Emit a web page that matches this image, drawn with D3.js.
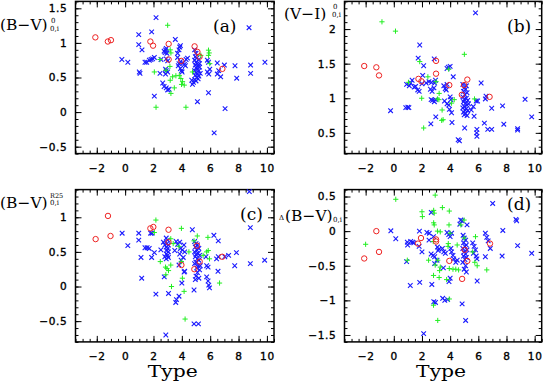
<!DOCTYPE html>
<html>
<head>
<meta charset="utf-8">
<script src="https://cdnjs.cloudflare.com/ajax/libs/d3/7.8.5/d3.min.js"></script>
<style>
body { margin: 0; background: #fff; }
svg { display: block; }
</style>
</head>
<body>
<svg id="chart" width="545" height="382"></svg>
<script>
// tick labels
const typeTicks = [-2, 0, 2, 4, 6, 8, 10];
const yTicksA = [-0.5, 0, 0.5, 1, 1.5];
const yTicksB = [0.5, 1, 1.5, 2];
const yTicksC = [-0.5, 0, 0.5, 1];
const yTicksD = [-1.5, -1, -0.5, 0, 0.5];

// panel (a): (B-V)^0_0,i vs Type
const aRed = [[-2.1,1.08],[-1.22,1.02],[-1.0,1.04],[1.78,1.02],[1.97,0.96],[3.07,0.985],[3.07,0.76],[3.96,0.74],[4.9,0.95],[5.1,0.87],[5.25,0.80],[6.86,0.625]];
const aGreen = [[3.0,1.255],[3.18,0.9],[3.23,0.855],[2.46,0.76],[2.06,0.58],[2.88,0.605],[3.16,0.66],[3.35,0.51],[3.58,0.525],[3.93,0.485],[3.98,0.4],[4.05,0.44],[3.18,0.46],[3.23,0.27],[3.47,0.35],[2.18,0.07],[4.29,0.07],[4.75,0.58],[5.34,0.82],[5.88,0.895],[5.93,0.855],[5.88,0.82],[5.97,0.7],[3.82,0.53],[4.17,0.39]];
const aBlue = [[-0.23,0.76],[0.19,0.72],[0.96,1.12],[0.96,0.975],[1.19,0.9],[1.0,0.58],[1.05,0.56],[1.4,0.72],[1.52,0.72],[1.71,0.75],[1.83,0.76],[1.94,0.77],[1.87,1.16],[2.06,0.79],[2.18,1.365],[2.06,0.23],[2.46,0.56],[2.53,0.76],[2.65,0.42],[2.75,0.88],[2.85,0.9],[2.9,0.92],[2.82,0.86],[2.95,0.85],[2.9,0.77],[3.0,0.74],[2.85,0.62],[2.9,0.6],[3.0,0.58],[2.85,0.55],[2.9,0.35],[3.0,0.32],[3.1,0.33],[2.75,0.37],[3.54,1.05],[3.7,0.85],[3.8,0.9],[3.85,0.94],[3.9,0.96],[3.7,0.79],[3.9,0.73],[3.8,0.7],[3.9,0.63],[3.98,0.6],[4.02,0.58],[4.1,0.71],[4.18,0.69],[4.25,0.67],[3.75,0.67],[4.3,0.76],[4.4,0.78],[4.7,0.46],[4.75,0.4],[4.82,0.43],[4.9,0.9],[5.0,0.85],[4.95,0.8],[5.05,0.78],[5.2,0.76],[4.9,0.75],[5.0,0.72],[5.1,0.7],[5.25,0.7],[4.95,0.68],[5.15,0.66],[5.0,0.64],[5.1,0.62],[4.9,0.6],[5.2,0.6],[5.0,0.57],[5.1,0.55],[4.95,0.53],[5.2,0.52],[5.05,0.5],[5.15,0.48],[4.9,0.47],[5.25,0.65],[5.3,0.56],[5.0,0.45],[5.1,0.15],[5.8,0.75],[5.88,0.72],[5.97,0.62],[5.8,0.58],[5.9,0.55],[5.88,0.28],[6.28,-0.3],[6.5,0.71],[6.6,0.6],[6.5,0.55],[6.74,0.51],[7.0,0.68],[7.05,0.05],[7.75,0.67],[7.87,0.49],[8.74,1.22],[8.85,0.68],[8.85,0.56],[9.86,0.72]];

// panel (b): (V-I)^0_0,i vs Type
const bRed = [[-2.1,1.466],[-1.24,1.447],[-1.05,1.33],[1.75,1.28],[1.96,1.245],[3.0,1.54],[3.0,1.355],[3.94,1.19],[4.83,1.05],[4.99,1.19],[5.22,1.27],[6.8,1.02]];
const bGreen = [[-0.84,2.105],[0.12,1.97],[1.04,1.23],[1.84,1.53],[1.98,1.0],[2.12,0.57],[2.42,1.31],[3.22,1.07],[3.1,0.99],[3.2,0.98],[3.43,0.83],[3.4,0.68],[3.5,0.69],[3.9,1.42],[4.1,0.93],[4.29,0.98],[5.01,1.635],[5.73,0.99],[3.0,1.24]];
const bBlue = [[-0.23,0.82],[0.85,0.865],[1.0,0.87],[1.07,0.865],[0.91,1.2],[1.1,1.18],[1.2,1.22],[1.3,1.26],[1.45,1.16],[1.55,1.17],[1.73,1.58],[1.84,1.77],[1.7,1.12],[1.8,1.1],[2.0,1.21],[2.05,1.33],[2.12,1.47],[2.3,1.22],[2.5,1.24],[2.68,1.23],[2.6,1.13],[2.72,1.1],[2.85,1.15],[2.65,0.98],[2.75,0.97],[2.88,0.95],[2.95,0.98],[2.87,1.57],[2.98,0.73],[2.9,1.22],[2.96,1.26],[2.63,0.63],[3.55,1.18],[3.65,1.14],[3.72,1.12],[3.78,1.2],[3.87,1.45],[3.78,1.43],[4.0,1.46],[3.6,0.96],[3.78,0.92],[3.9,0.9],[4.0,1.02],[4.05,0.98],[4.1,0.79],[4.22,1.31],[3.95,0.84],[4.13,0.65],[4.57,0.4],[4.66,0.385],[4.9,1.2],[5.0,1.15],[5.1,1.13],[4.95,1.1],[5.2,1.08],[5.05,1.05],[4.9,1.02],[5.15,1.0],[5.0,0.98],[5.25,0.97],[4.95,0.95],[5.1,0.93],[5.2,0.9],[5.0,0.88],[4.9,0.86],[5.15,0.85],[5.05,0.83],[5.25,0.82],[4.95,0.8],[5.1,0.78],[5.0,0.76],[5.2,0.75],[5.3,0.92],[5.15,1.18],[5.03,0.57],[5.8,2.235],[5.7,0.74],[5.9,0.55],[5.88,0.5],[5.9,0.45],[5.85,0.96],[5.95,0.96],[5.5,0.83],[5.64,0.88],[6.2,1.22],[6.43,0.64],[6.5,0.99],[6.55,1.03],[6.95,0.855],[6.67,0.55],[6.95,0.55],[7.72,0.89],[7.81,0.625],[8.79,0.56],[8.79,0.54],[9.32,0.985],[9.79,0.73]];

// panel (c): (B-V)^R25_0,i vs Type
const cRed = [[-2.08,0.685],[-1.21,1.02],[-1.03,0.73],[1.78,0.84],[1.99,0.86],[3.06,0.82],[3.06,0.64],[3.97,0.31],[5.07,0.59],[4.88,0.25],[5.26,0.36],[6.85,0.43]];
const cGreen = [[2.17,0.96],[2.06,0.78],[3.97,0.84],[5.09,0.73],[5.84,0.71],[4.86,0.66],[3.22,0.69],[3.39,0.62],[2.48,0.36],[2.85,0.28],[2.95,0.26],[3.22,0.31],[3.06,0.23],[2.87,0.17],[3.27,0.0],[4.04,0.12],[4.16,-0.07],[4.23,-0.47],[5.86,0.52],[5.75,0.5],[6.66,0.05],[3.97,0.36],[3.8,0.58],[4.5,0.5],[5.5,0.45],[5.95,0.4]];
const cBlue = [[-0.21,0.77],[0.19,0.59],[0.96,0.77],[0.96,0.67],[1.12,0.42],[1.17,0.12],[1.4,0.56],[1.55,0.56],[1.7,0.55],[1.8,0.77],[1.9,0.77],[1.87,0.42],[2.06,0.49],[2.17,-0.11],[2.52,0.53],[2.7,0.64],[2.8,0.6],[2.9,0.7],[3.0,0.67],[2.95,0.62],[3.05,0.6],[2.9,0.57],[3.0,0.55],[2.95,0.52],[3.05,0.5],[2.9,0.47],[3.0,0.45],[3.05,0.42],[2.9,0.4],[2.8,0.43],[2.76,0.14],[3.06,-0.1],[2.87,-0.7],[3.57,-0.23],[3.62,-0.19],[3.8,-0.14],[3.6,0.65],[3.7,0.61],[3.85,0.64],[3.9,0.55],[4.04,0.53],[3.85,0.47],[4.1,0.42],[3.95,0.38],[4.15,0.6],[4.2,0.5],[3.5,0.52],[3.8,0.31],[4.0,0.05],[4.16,0.21],[4.2,0.22],[4.74,0.82],[4.86,-0.05],[4.9,0.65],[5.0,0.62],[5.1,0.6],[4.95,0.57],[5.2,0.55],[5.05,0.53],[4.9,0.5],[5.15,0.48],[5.0,0.46],[5.25,0.45],[4.95,0.43],[5.1,0.4],[5.2,0.38],[5.0,0.35],[4.9,0.33],[5.15,0.3],[5.05,0.27],[5.25,0.24],[5.1,0.2],[5.0,0.15],[5.2,0.12],[4.95,0.1],[5.3,0.3],[4.86,-0.54],[5.17,-0.54],[5.7,0.43],[5.75,0.3],[5.85,0.28],[5.75,0.14],[5.85,0.08],[5.9,0.02],[5.95,-0.02],[6.26,0.74],[6.57,0.66],[6.45,0.4],[6.57,0.43],[6.55,0.22],[7.03,0.43],[7.3,0.45],[7.85,0.49],[7.73,0.3],[8.76,1.37],[8.83,0.85],[8.83,0.33],[9.84,0.38]];

// panel (d): Delta(B-V)_0,i vs Type
const dRed = [[-2.1,-0.395],[-1.24,0.0],[-1.05,-0.3],[1.72,-0.18],[1.93,-0.1],[3.0,-0.12],[3.0,-0.15],[3.94,-0.43],[4.85,-0.69],[5.03,-0.27],[5.22,-0.43],[6.83,-0.18]];
const dGreen = [[0.14,0.46],[-2.0,-0.19],[2.94,0.52],[2.0,0.28],[2.03,0.21],[2.83,0.3],[2.87,0.26],[3.45,0.34],[3.94,0.29],[2.83,0.12],[2.87,0.09],[3.92,0.09],[4.99,0.16],[4.76,0.09],[3.1,0.0],[3.3,-0.01],[3.99,-0.03],[5.8,-0.08],[2.8,-0.15],[3.87,-0.18],[3.85,-0.22],[0.96,-0.42],[2.47,-0.42],[3.12,-0.42],[2.94,-0.49],[3.3,-0.52],[3.25,-0.57],[3.94,-0.54],[4.2,-0.55],[4.4,-0.55],[4.6,-0.56],[5.92,-0.5],[6.6,-0.56],[2.82,-0.64],[3.22,-0.67],[3.75,-0.7],[2.82,-1.07],[3.12,-1.29],[3.94,-0.98],[5.6,-0.3],[5.75,-0.45],[4.5,-0.2],[5.0,-0.1]];
const dBlue = [[-0.21,0.005],[0.14,-0.11],[0.96,-0.16],[0.98,-0.2],[0.91,-0.44],[1.17,-0.785],[1.2,-0.15],[1.33,-0.16],[1.42,-0.17],[1.82,0.0],[1.84,-0.74],[1.8,-0.22],[2.0,-0.3],[2.12,-1.48],[2.35,-0.02],[2.52,-0.03],[2.5,-0.13],[2.66,0.27],[2.7,-0.77],[2.65,-0.33],[2.8,-0.35],[2.9,-0.37],[2.82,-0.08],[2.84,-1.02],[2.96,-1.03],[2.9,-0.47],[3.07,-0.42],[3.1,-0.23],[3.2,-0.26],[3.15,-0.28],[3.52,-0.53],[3.45,-0.25],[3.55,-0.3],[3.66,-0.32],[3.47,-0.97],[3.62,-1.0],[3.82,-0.99],[3.78,-0.02],[3.9,-0.05],[4.0,-0.08],[4.1,-0.03],[3.92,-0.73],[4.0,-0.68],[4.05,-0.25],[4.1,-0.3],[4.2,-0.35],[4.25,-0.4],[4.4,-0.45],[4.5,-0.42],[4.69,0.1],[4.75,0.16],[4.85,0.15],[4.92,-0.06],[5.0,-0.1],[5.1,-0.13],[4.95,-0.17],[5.15,-0.2],[5.05,-0.22],[4.9,-0.25],[5.2,-0.27],[5.0,-0.3],[5.1,-0.33],[4.95,-0.36],[5.15,-0.38],[5.05,-0.41],[4.9,-0.45],[5.1,-0.5],[5.0,-0.55],[5.15,-0.59],[5.2,0.09],[4.85,-1.05],[5.1,-1.29],[5.6,-0.17],[5.7,-0.22],[5.8,-0.27],[5.65,-0.32],[5.85,-0.36],[5.9,-0.4],[5.92,-0.72],[6.5,-0.03],[6.6,-0.09],[6.7,-0.14],[6.5,-0.37],[6.85,-0.25],[7.02,0.4],[7.74,0.01],[7.69,-0.36],[8.67,0.17],[8.72,0.15],[8.79,-0.21],[9.79,-0.32]];

const svg = d3.select("#chart");
const typeDomain = [-3.5, 10.5];
const colX = [[75.5, 274], [344.5, 541.7]];
const rowY = [[1.4, 153.6], [189.6, 341.9]];

function fmt(d) { return d < 0 ? "\u2212" + Math.abs(d) : String(d); }

function addAxis(g, axis, tx, ty, keepText) {
  const ag = g.append("g").attr("transform", `translate(${tx},${ty})`).call(axis);
  ag.select(".domain").remove();
  ag.selectAll("line").attr("stroke", "#000").attr("stroke-width", 1);
  ag.attr("font-family", "DejaVu Sans").attr("font-size", 10.5).attr("letter-spacing", 0.7);
  ag.selectAll("text").attr("fill", "#000").attr("stroke", "#000").attr("stroke-width", 0.35);
  if (!keepText) ag.selectAll("text").remove();
}

function drawPanel(p) {
  const xr = colX[p.col], yr = rowY[p.row];
  const x = d3.scaleLinear().domain(typeDomain).range(xr);
  const y = d3.scaleLinear().domain(p.yDomain).range([yr[1], yr[0]]);
  const g = svg.append("g");

  const xMinor = d3.range(-7, 22).map(i => i / 2);
  const yMinor = d3.range(Math.round(p.yDomain[0] * 10), Math.round(p.yDomain[1] * 10) + 1).map(i => i / 10);

  // ticks on all four sides, pointing inward
  addAxis(g, d3.axisBottom(x).tickValues(xMinor).tickSize(-3), 0, yr[1], false);
  addAxis(g, d3.axisBottom(x).tickValues(typeTicks).tickSize(-6).tickPadding(11).tickFormat(fmt), 0, yr[1], true);
  addAxis(g, d3.axisTop(x).tickValues(xMinor).tickSize(-3), 0, yr[0], false);
  addAxis(g, d3.axisTop(x).tickValues(typeTicks).tickSize(-6), 0, yr[0], false);
  addAxis(g, d3.axisLeft(y).tickValues(yMinor).tickSize(-3), xr[0], 0, false);
  addAxis(g, d3.axisLeft(y).tickValues(p.yTicks).tickSize(-6).tickPadding(8).tickFormat(fmt), xr[0], 0, true);
  addAxis(g, d3.axisRight(y).tickValues(yMinor).tickSize(-3), xr[1], 0, false);
  addAxis(g, d3.axisRight(y).tickValues(p.yTicks).tickSize(-6), xr[1], 0, false);

  g.append("rect")
    .attr("x", xr[0]).attr("y", yr[0])
    .attr("width", xr[1] - xr[0]).attr("height", yr[1] - yr[0])
    .attr("fill", "none").attr("stroke", "#000").attr("stroke-width", 1.5);

  const s = 2.3;
  g.append("g").selectAll("path").data(p.blue).join("path")
    .attr("d", d => `M${x(d[0]) - s},${y(d[1]) - s}L${x(d[0]) + s},${y(d[1]) + s}M${x(d[0]) - s},${y(d[1]) + s}L${x(d[0]) + s},${y(d[1]) - s}`)
    .attr("stroke", "#1a1aff").attr("stroke-width", 1.1).attr("fill", "none");

  const t = 2.6;
  g.append("g").selectAll("path").data(p.green).join("path")
    .attr("d", d => `M${x(d[0]) - t},${y(d[1])}L${x(d[0]) + t},${y(d[1])}M${x(d[0])},${y(d[1]) - t}L${x(d[0])},${y(d[1]) + t}`)
    .attr("stroke", "#22ee22").attr("stroke-width", 1).attr("fill", "none");

  g.append("g").selectAll("circle").data(p.red).join("circle")
    .attr("cx", d => x(d[0])).attr("cy", d => y(d[1])).attr("r", 2.7)
    .attr("stroke", "#ee2222").attr("stroke-width", 1).attr("fill", "none");

  g.append("text")
    .attr("x", p.name[1]).attr("y", p.name[2])
    .attr("font-family", "DejaVu Serif").attr("font-size", 17)
    .text(p.name[0]);

  if (p.row === 1) {
    g.append("text")
      .attr("x", (xr[0] + xr[1]) / 2 - 2).attr("y", 377)
      .attr("text-anchor", "middle")
      .attr("font-family", "DejaVu Serif").attr("font-size", 16)
      .attr("textLength", 50).attr("lengthAdjust", "spacingAndGlyphs")
      .text("Type");
  }
}

drawPanel({col: 0, row: 0, yDomain: [-0.6, 1.6], yTicks: yTicksA, red: aRed, blue: aBlue, green: aGreen, name: ["(a)", 213, 32]});
drawPanel({col: 1, row: 0, yDomain: [0.2, 2.4], yTicks: yTicksB, red: bRed, blue: bBlue, green: bGreen, name: ["(b)", 507, 32]});
drawPanel({col: 0, row: 1, yDomain: [-0.8, 1.4], yTicks: yTicksC, red: cRed, blue: cBlue, green: cGreen, name: ["(c)", 240, 220]});
drawPanel({col: 1, row: 1, yDomain: [-1.6, 0.6], yTicks: yTicksD, red: dRed, blue: dBlue, green: dGreen, name: ["(d)", 507, 210]});

// y axis titles with stacked super/subscripts
function label(x, y, size, txt) {
  svg.append("text").attr("x", x).attr("y", y)
    .attr("font-family", "DejaVu Serif").attr("font-size", size)
    .text(txt);
}
label(0, 30, 15.5, "(B\u2212V)");
label(51, 23, 7, "0");
label(50, 31, 7, "0,i");

label(284, 18.5, 15.5, "(V\u2212I)");
label(333, 9, 7, "0");
label(332, 17, 7, "0,i");

label(0, 208, 15.5, "(B\u2212V)");
label(50, 198, 6.5, "R25");
label(50, 205, 7, "0,i");

label(279, 220, 7, "\u0394");
label(285, 221, 15.5, "(B\u2212V)");
label(333, 222, 7, "0,i");
</script>
</body>
</html>
